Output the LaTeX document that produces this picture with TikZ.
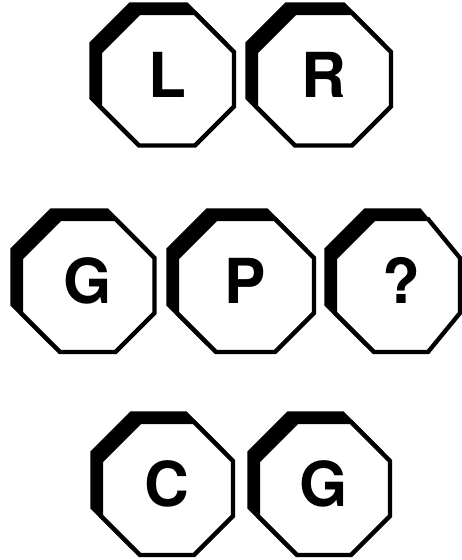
\documentclass[tikz,border=0pt]{standalone}
\usepackage{fontspec}
\setmainfont{TeX Gyre Heros}
\tikzset{
  signline/.style={line width=4.3pt, draw=black, line join=miter},
  letter/.style={anchor=base, inner sep=0pt, font=\fontsize{62}{62}\selectfont\bfseries}
}
% #1 name, #2 left, #3 top, #4 right, #5 bottom, #6 right cut, #7 letter x, #8 letter
\newcommand\stopsign[8]{%
  \begin{scope}[shift={(-8.5,-8.5)}]
    \filldraw[signline, fill=black] (#2+39,#3) -- (#4-#6,#3) -- (#4,#3+39) -- (#4,#5-39)
      -- (#4-#6,#5) -- (#2+39,#5) -- (#2,#5-39) -- (#2,#3+39) -- cycle;
  \end{scope}
  \filldraw[signline, fill=white] (#2+39,#3) -- (#4-#6,#3) -- (#4,#3+39) -- (#4,#5-39)
      -- (#4-#6,#5) -- (#2+39,#5) -- (#2,#5-39) -- (#2,#3+39) -- cycle;
  \node[letter] (#1) at (#7,{(#3+#5)/2+18}) {#8};
}
\begin{document}
\begin{tikzpicture}[x=1pt,y=-1pt]
  \useasboundingbox (0,0) rectangle (462,560);
  \stopsign{l}{100}{13}{234}{145.5}{39}{167}{L}
  \stopsign{r}{256}{13}{391}{145.5}{39}{323.5}{R}
  \stopsign{g1}{21}{219}{154.5}{352}{39}{88}{G}
  \stopsign{p}{177}{219}{314}{352}{39}{245.5}{P}
  \stopsign{q}{335}{219}{460}{352}{32}{401.5}{?}
  \stopsign{c}{101}{422}{233}{555}{39}{167}{C}
  \stopsign{g2}{258}{422}{390}{555}{39}{324}{G}
\end{tikzpicture}
\end{document}
